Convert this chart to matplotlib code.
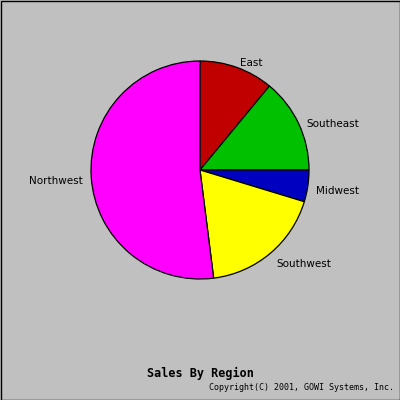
import matplotlib
matplotlib.use("Agg")
import matplotlib.pyplot as plt
from matplotlib.patches import Rectangle
from matplotlib.transforms import offset_copy

regions = ["East", "Southeast", "Midwest", "Southwest", "Northwest"]
sales = [11.0, 14.0, 4.7, 18.3, 52.0]
colors = ["#C00000", "#00C000", "#0000C0", "#FFFF00", "#FF00FF"]
title = "Sales By Region"
copyright_text = "Copyright(C) 2001, GOWI Systems, Inc."

fig = plt.figure(figsize=(4, 4), dpi=100, facecolor="#C0C0C0")
ax = fig.add_axes([91/400, 121/400, 218/400, 218/400])
ax.set_facecolor("#C0C0C0")
wedges, texts = ax.pie(sales, labels=regions, colors=colors, startangle=90,
                       counterclock=False, labeldistance=1.08,
                       wedgeprops=dict(edgecolor="black", linewidth=0.9),
                       textprops=dict(fontsize=7.5, family="DejaVu Sans"))
for t in texts:
    t.set_transform(offset_copy(ax.transData, fig=fig, x=0, y=-4, units="dots"))
ax.set_xlim(-1, 1)
ax.set_ylim(-1, 1)
ax.set_aspect("equal")
ax.axis("off")

fig.text(0.5, 1 - 373/400, title, ha="center", va="center",
         family="DejaVu Sans Mono", fontweight="bold", fontsize=8.5)
fig.text(394/400, 1 - 387/400, copyright_text, ha="right", va="center",
         family="DejaVu Sans Mono", fontsize=6)

fig.patches.append(Rectangle((0.5/400, 0.5/400), 399/400, 399/400,
                             transform=fig.transFigure, fill=False,
                             edgecolor="black", linewidth=1))
fig.savefig("out.png", dpi=100, facecolor="#C0C0C0")
